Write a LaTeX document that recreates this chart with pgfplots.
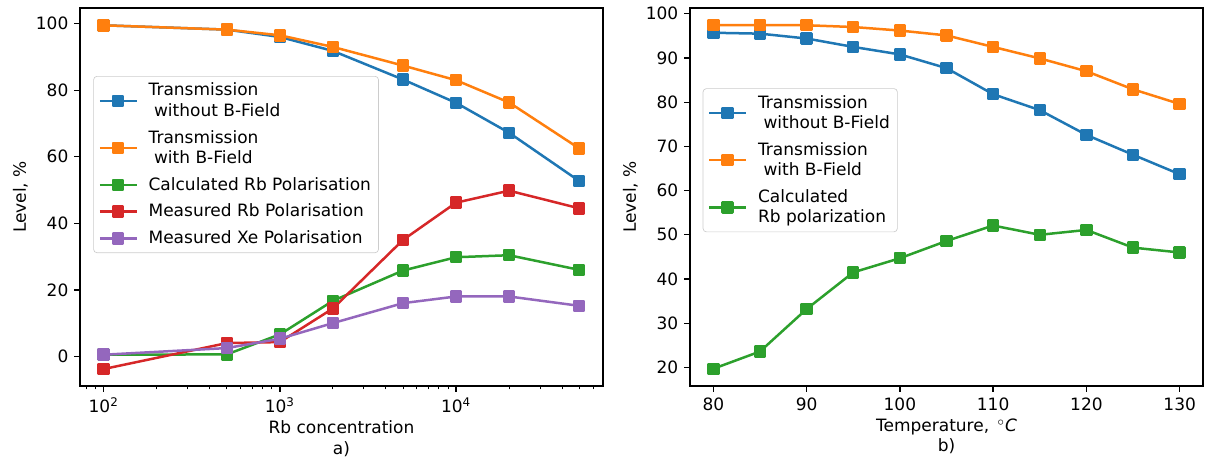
\documentclass[border=0pt]{standalone}
\usepackage{fontspec}
\setmainfont{DejaVu Sans}
\usepackage{pgfplots}
\pgfplotsset{compat=1.18}
\definecolor{cA}{HTML}{1F77B4}
\definecolor{cB}{HTML}{FF7F0E}
\definecolor{cC}{HTML}{2CA02C}
\definecolor{cD}{HTML}{D62728}
\definecolor{cE}{HTML}{9467BD}
\pgfplotsset{
  mystyle/.style={
    scale only axis,
    anchor=south west,
    axis line style={line width=0.8bp},
    tick pos=left,
    tick align=outside,
    major tick length=3.5bp,
    minor tick length=2bp,
    every tick/.style={black, line width=0.8bp},
    every minor tick/.style={black, line width=0.6bp},
    font=\fontsize{10.2bp}{12.2bp}\selectfont,
    /pgf/number format/assume math mode=true,
    ticklabel style={font=\fontsize{10.2bp}{12.2bp}\selectfont},
    label style={font=\fontsize{10.2bp}{12.2bp}\selectfont},
    xlabel style={align=center, yshift=2bp},
    ylabel style={yshift=-2bp},
    every axis plot/.append style={line width=1.5bp, mark=square*, mark size=3bp, line join=round},
    legend cell align=left,
    legend image code/.code={\draw[fill opacity=1, draw opacity=1, mark repeat=2,mark phase=2] plot coordinates {(0bp,0bp) (11bp,0bp) (22bp,0bp)}; \path (27bp,0bp);},
    legend style={anchor=north west, draw=black!20, rounded corners=2bp, fill=white, fill opacity=0.8, text opacity=1,
      font=\fontsize{10.2bp}{12.2bp}\selectfont, cells={align=left}, inner xsep=3bp, inner ysep=2.5bp,
      row sep=3.8bp, nodes={inner sep=1.5bp}},
  }
}
\begin{document}
\begin{tikzpicture}
\useasboundingbox (0bp,0bp) rectangle (724.8bp,279bp);
\begin{axis}[mystyle, at={(48bp,47.4bp)}, width=313.8bp, height=226.8bp,
  xmode=log, xmin=73.4, xmax=68230, ymin=-8.9, ymax=104.7,
  xtick={100,1000,10000}, xticklabels={10\textsuperscript{2},10\textsuperscript{3},10\textsuperscript{4}},
  minor xtick={80,90,200,300,400,500,600,700,800,900,2000,3000,4000,5000,6000,7000,8000,9000,20000,30000,40000,50000,60000},
  ytick={0,20,40,60,80,100},
  xlabel={Rb concentration\\a)}, ylabel={Level, \%},
  legend style={at={(0.0254,0.820)}}]
\addplot[cA] coordinates {(100,99.5) (500,98.2) (1000,96.0) (2000,91.8) (5000,83.2) (10000,76.2) (20000,67.2) (50000,52.7)};
\addlegendentry{Transmission\\\hspace*{0.32em}without B-Field}
\addplot[cB] coordinates {(100,99.5) (500,98.2) (1000,96.5) (2000,93.0) (5000,87.4) (10000,83.0) (20000,76.3) (50000,62.5)};
\addlegendentry{Transmission\\\hspace*{0.32em}with B-Field}
\addplot[cC] coordinates {(100,0.5) (500,0.6) (1000,6.6) (2000,16.7) (5000,25.8) (10000,29.8) (20000,30.4) (50000,26.0)};
\addlegendentry{Calculated Rb Polarisation}
\addplot[cD] coordinates {(100,-3.8) (500,4.0) (1000,4.3) (2000,14.4) (5000,35.0) (10000,46.2) (20000,49.8) (50000,44.5)};
\addlegendentry{Measured Rb Polarisation}
\addplot[cE] coordinates {(100,0.5) (500,2.5) (1000,5.3) (2000,10.0) (5000,16.0) (10000,18.0) (20000,18.0) (50000,15.2)};
\addlegendentry{Measured Xe Polarisation}
\end{axis}
\begin{axis}[mystyle, at={(414bp,47.4bp)}, width=307.8bp, height=226.8bp,
  xmin=77.5, xmax=132.5, ymin=15.8, ymax=101.3,
  xtick={80,90,...,130}, ytick={20,30,...,100},
  xlabel={Temperature,\, $^\circ$\textit{C}\\b)}, ylabel={Level, \%},
  legend style={at={(0.0248,0.7876)}}]
\addplot[cA] coordinates {(80,95.7) (85,95.5) (90,94.4) (95,92.5) (100,90.8) (105,87.7) (110,81.8) (115,78.2) (120,72.6) (125,68.1) (130,63.7)};
\addlegendentry{Transmission\\\hspace*{0.32em}without B-Field}
\addplot[cB] coordinates {(80,97.4) (85,97.4) (90,97.4) (95,97.0) (100,96.2) (105,95.1) (110,92.5) (115,89.9) (120,87.0) (125,82.9) (130,79.6)};
\addlegendentry{Transmission\\\hspace*{0.32em}with B-Field}
\addplot[cC] coordinates {(80,19.7) (85,23.6) (90,33.2) (95,41.5) (100,44.7) (105,48.6) (110,52.1) (115,50.0) (120,51.1) (125,47.1) (130,46.0)};
\addlegendentry{Calculated\\Rb polarization}
\end{axis}
\end{tikzpicture}
\end{document}
